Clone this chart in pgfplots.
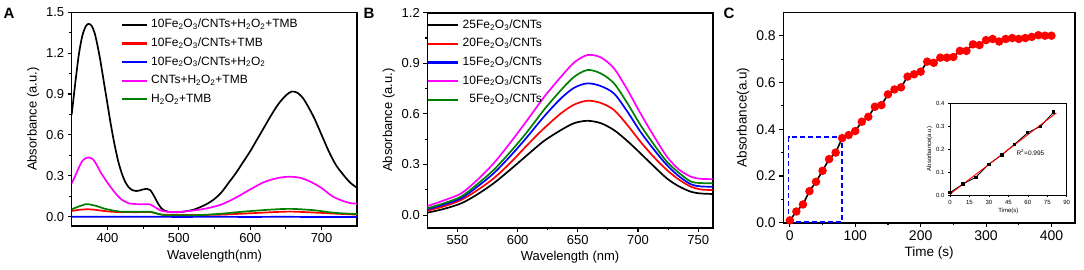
\documentclass[border=0pt]{standalone}
\usepackage{fontspec}
\setmainfont{Liberation Sans}
\usepackage{pgfplots}
\pgfplotsset{compat=1.18}
\definecolor{mygreen}{RGB}{0,128,0}
\definecolor{mymag}{RGB}{255,0,255}
\definecolor{myred}{RGB}{255,0,0}
\definecolor{myblue}{RGB}{0,0,255}
\pgfplotsset{
 panel/.style={
  scale only axis, axis line style={line width=1.6pt},
  tick align=outside, xtick pos=bottom, ytick pos=left,
  major tick length=4pt, minor tick length=2.5pt,
  every tick/.style={black, line width=1.1pt},
  /pgf/number format/assume math mode=true,
  tick label style={font=\fontsize{13}{15}\selectfont},
  label style={font=\fontsize{13}{15}\selectfont},
  legend style={draw=none, fill=none, font=\fontsize{12}{14}\selectfont, row sep=0pt,
     nodes={inner sep=3.3pt, text height=9pt, text depth=3pt}},
 },
 cv/.style={line width=1.7pt, smooth, no markers},
}
\begin{document}
\begin{tikzpicture}
\path[use as bounding box] (0pt,0pt) rectangle (1084pt,269pt);
% ---------------- A
\begin{axis}[panel, at={(71.7pt,42.8pt)}, anchor=south west, width=285.6pt, height=213.9pt,
 xmin=350, xmax=750, ymin=-0.07, ymax=1.5,
 xtick={400,500,600,700}, minor x tick num=1,
 ytick={0,0.3,0.6,0.9,1.2,1.5}, minor y tick num=1,
 yticklabel style={/pgf/number format/.cd, fixed, fixed zerofill, precision=1},
 xlabel={Wavelength(nm)}, ylabel={Absorbance (a.u.)},
 legend style={at={(0.16,0.995)}, anchor=north west}, legend cell align=left,
 legend image code/.code={\draw[#1, line width=2.3pt] (0pt,0pt) -- (25pt,0pt);}]
\addplot[cv, black] coordinates {(350,0.75)(355,0.98)(360,1.19)(365,1.33)(370,1.40)(374,1.415)(378,1.40)(382,1.35)(386,1.26)(390,1.15)(395,0.99)(400,0.83)(405,0.67)(410,0.53)(415,0.41)(420,0.32)(425,0.255)(430,0.215)(435,0.195)(440,0.188)(445,0.192)(450,0.20)(455,0.205)(460,0.195)(465,0.155)(470,0.105)(475,0.065)(480,0.045)(485,0.036)(490,0.032)(500,0.033)(510,0.04)(520,0.05)(530,0.07)(540,0.095)(550,0.13)(560,0.18)(570,0.25)(580,0.32)(590,0.40)(600,0.48)(610,0.57)(620,0.66)(630,0.75)(640,0.83)(650,0.89)(658,0.918)(666,0.91)(674,0.87)(682,0.80)(690,0.72)(700,0.60)(710,0.48)(720,0.38)(730,0.31)(740,0.25)(750,0.21)};
\addlegendentry{10Fe\textsubscript{2}O\textsubscript{3}/CNTs+H\textsubscript{2}O\textsubscript{2}+TMB}
\addplot[cv, myred] coordinates {(350,0.042)(360,0.05)(370,0.054)(380,0.052)(395,0.042)(410,0.035)(440,0.033)(460,0.034)(470,0.022)(480,0.014)(520,0.012)(560,0.015)(600,0.025)(640,0.035)(660,0.037)(690,0.03)(720,0.022)(750,0.015)};
\addlegendentry{10Fe\textsubscript{2}O\textsubscript{3}/CNTs+TMB}
\addplot[cv, myblue] coordinates {(350,0.0)(400,-0.001)(450,0.0)(500,-0.002)(550,-0.001)(600,-0.002)(650,-0.001)(700,-0.003)(750,-0.003)};
\addlegendentry{10Fe\textsubscript{2}O\textsubscript{3}/CNTs+H\textsubscript{2}O\textsubscript{2}}
\addplot[cv, mymag] coordinates {(350,0.245)(355,0.30)(360,0.36)(365,0.41)(370,0.43)(374,0.435)(380,0.42)(385,0.38)(390,0.33)(395,0.29)(400,0.25)(405,0.215)(410,0.18)(415,0.15)(420,0.125)(425,0.11)(430,0.098)(440,0.092)(450,0.092)(460,0.09)(465,0.075)(470,0.058)(475,0.045)(480,0.038)(490,0.034)(500,0.034)(520,0.045)(540,0.062)(560,0.09)(580,0.14)(600,0.20)(620,0.255)(640,0.285)(655,0.293)(670,0.285)(685,0.255)(700,0.21)(715,0.15)(730,0.115)(740,0.10)(750,0.095)};
\addlegendentry{CNTs+H\textsubscript{2}O\textsubscript{2}+TMB}
\addplot[cv, mygreen] coordinates {(350,0.054)(360,0.075)(370,0.092)(375,0.09)(385,0.078)(395,0.06)(405,0.048)(418,0.037)(440,0.036)(460,0.036)(470,0.022)(480,0.012)(500,0.01)(530,0.012)(560,0.022)(580,0.032)(610,0.045)(640,0.055)(660,0.057)(690,0.047)(710,0.033)(730,0.024)(750,0.02)};
\addlegendentry{H\textsubscript{2}O\textsubscript{2}+TMB}
\end{axis}
\node[font=\bfseries\fontsize{15}{15}\selectfont] at (9pt,256pt) {A};
% ---------------- B
\begin{axis}[panel, at={(427.3pt,41.3pt)}, anchor=south west, width=285.4pt, height=215pt,
 xmin=525, xmax=762, ymin=-0.075, ymax=1.2,
 xtick={550,600,650,700,750}, minor x tick num=1,
 ytick={0,0.3,0.6,0.9,1.2}, minor y tick num=1,
 yticklabel style={/pgf/number format/.cd, fixed, fixed zerofill, precision=1},
 xlabel={Wavelength (nm)}, ylabel={Absorbance (a.u.)},
 legend style={at={(-0.012,0.995)}, anchor=north west}, legend cell align=right,
 legend image code/.code={\draw[#1, line width=2.3pt] (0pt,0pt) -- (30pt,0pt);}]
\addplot[cv, black] coordinates {(525,0.014)(538,0.035)(553,0.069)(566,0.12)(580,0.188)(594,0.27)(608,0.356)(622,0.44)(636,0.504)(647,0.545)(658,0.559)(669,0.545)(680,0.504)(691,0.44)(702,0.366)(713,0.29)(724,0.217)(734,0.17)(744,0.138)(752,0.128)(762,0.125)};
\addlegendentry{25Fe\textsubscript{2}O\textsubscript{3}/CNTs}
\addplot[cv, myred] coordinates {(525,0.026)(538,0.05)(553,0.089)(566,0.145)(580,0.217)(594,0.31)(608,0.415)(622,0.515)(636,0.603)(647,0.655)(658,0.678)(669,0.665)(680,0.623)(691,0.535)(702,0.435)(713,0.345)(724,0.267)(734,0.21)(744,0.168)(752,0.152)(762,0.148)};
\addlegendentry{20Fe\textsubscript{2}O\textsubscript{3}/CNTs}
\addplot[cv, myblue] coordinates {(525,0.034)(538,0.06)(553,0.099)(566,0.165)(580,0.247)(594,0.35)(608,0.464)(622,0.585)(636,0.692)(647,0.755)(658,0.781)(669,0.765)(680,0.721)(691,0.615)(702,0.494)(713,0.39)(724,0.296)(734,0.23)(744,0.182)(752,0.17)(762,0.168)};
\addlegendentry{15Fe\textsubscript{2}O\textsubscript{3}/CNTs}
\addplot[cv, mymag] coordinates {(525,0.053)(538,0.085)(553,0.128)(566,0.205)(580,0.306)(594,0.43)(608,0.563)(622,0.7)(636,0.82)(647,0.905)(658,0.949)(669,0.935)(680,0.87)(691,0.745)(702,0.603)(713,0.47)(724,0.346)(734,0.27)(744,0.227)(752,0.215)(762,0.213)};
\addlegendentry{10Fe\textsubscript{2}O\textsubscript{3}/CNTs}
\addplot[cv, mygreen] coordinates {(525,0.04)(538,0.068)(553,0.109)(566,0.18)(580,0.267)(594,0.375)(608,0.494)(622,0.625)(636,0.741)(647,0.82)(658,0.86)(669,0.84)(680,0.781)(691,0.665)(702,0.534)(713,0.42)(724,0.316)(734,0.25)(744,0.198)(752,0.19)(762,0.188)};
\addlegendentry{5Fe\textsubscript{2}O\textsubscript{3}/CNTs}
\end{axis}
\node[font=\bfseries\fontsize{15}{15}\selectfont] at (369pt,256pt) {B};
% ---------------- C
\begin{axis}[panel, at={(783.3pt,46.3pt)}, anchor=south west, width=291.7pt, height=210.4pt,
 xmin=-10, xmax=436, ymin=0, ymax=0.9,
 xtick={0,100,200,300,400}, minor x tick num=1,
 ytick={0,0.2,0.4,0.6,0.8}, minor y tick num=1,
 tick label style={font=\fontsize{14}{16}\selectfont},
 label style={font=\fontsize{13.5}{16}\selectfont},
 yticklabel style={/pgf/number format/.cd, fixed, fixed zerofill, precision=1},
 xlabel={Time (s)}, ylabel={Absorbance(a.u)}]
\addplot[myblue, line width=1.8pt, dash pattern=on 5pt off 3pt] coordinates {(-2,0.004)(-2,0.365)(80,0.365)(80,0.004)(-2,0.004)};
\addplot[black, line width=1.6pt, mark=*, mark size=3.4pt, mark options={fill=myred, draw=myred, solid}] coordinates {
(0,0.01)(10,0.048)(20,0.078)(30,0.135)(40,0.175)(50,0.222)(60,0.272)(70,0.30)(80,0.362)(90,0.375)(100,0.392)(110,0.432)(120,0.453)(130,0.496)(140,0.503)(150,0.549)(160,0.570)(170,0.579)(180,0.625)(190,0.635)(200,0.646)(210,0.689)(220,0.684)(230,0.706)(240,0.706)(250,0.709)(260,0.735)(270,0.735)(280,0.763)(290,0.760)(300,0.781)(310,0.786)(320,0.775)(330,0.786)(340,0.790)(350,0.786)(360,0.790)(370,0.795)(380,0.802)(390,0.80)(400,0.80)};
\end{axis}
\node[font=\bfseries\fontsize{15}{15}\selectfont] at (729pt,256pt) {C};
% inset
\begin{axis}[scale only axis, at={(950pt,74pt)}, anchor=south west, width=116.7pt, height=91.7pt,
 axis line style={line width=0.8pt},
 tick align=outside, xtick pos=bottom, ytick pos=left,
 major tick length=2pt, every tick/.style={black, line width=0.6pt},
 /pgf/number format/assume math mode=true,
 tick label style={font=\fontsize{6}{7}\selectfont},
 label style={font=\fontsize{6}{7}\selectfont},
 xlabel shift=-3pt, ylabel shift=-3pt,
 xmin=0, xmax=90, ymin=0, ymax=0.4,
 xtick={0,15,30,45,60,75,90}, ytick={0,0.1,0.2,0.3,0.4},
 yticklabel style={/pgf/number format/.cd, fixed, fixed zerofill, precision=1},
 xlabel={Time(s)}, ylabel={Absorbance(a.u)}]
\addplot[black, line width=0.9pt, mark=square*, mark size=1.1pt] coordinates {(0,0.01)(10,0.048)(20,0.078)(30,0.135)(40,0.175)(50,0.222)(60,0.272)(70,0.30)(80,0.362)};
\addplot[myred, line width=0.9pt] coordinates {(0,0.004)(82,0.358)};
\node[font=\fontsize{6.5}{7}\selectfont] at (axis cs:62,0.185) {R\textsuperscript{2}=0.995};
\end{axis}
\end{tikzpicture}
\end{document}
